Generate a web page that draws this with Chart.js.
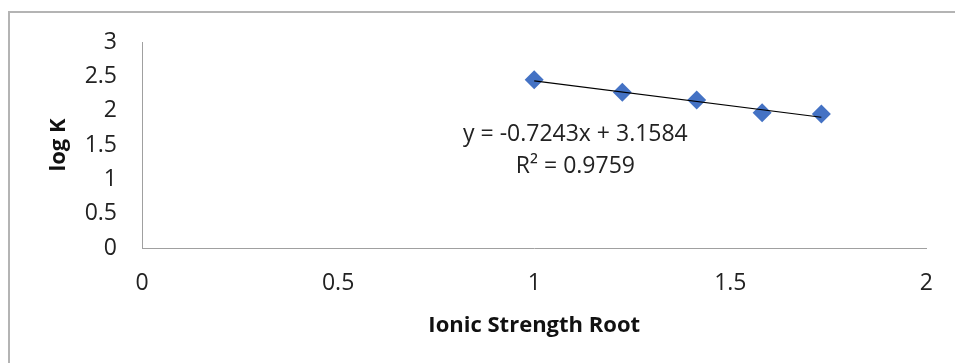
<!DOCTYPE html>
<html>
<head>
<meta charset="utf-8">
<script src="https://cdn.jsdelivr.net/npm/chart.js@4"></script>
<style>
  html, body { margin: 0; padding: 0; background: #fff; }
  #wrap { position: relative; width: 955px; height: 363px; overflow: hidden; }
  #frame { position: absolute; left: 8px; top: 11px; width: 1000px; height: 400px;
           border-left: 2px solid #b4b4b4; border-top: 2px solid #b4b4b4; }
  canvas { position: absolute; left: 0; top: 0; }
</style>
</head>
<body>
<div id="wrap">
  <div id="frame"></div>
  <canvas id="chart" width="955" height="363"></canvas>
</div>
<script>
// Data
const IONIC_ROOT = [1.0, 1.2247, 1.4142, 1.5811, 1.7321];
const LOG_K = [2.45, 2.27, 2.155, 1.97, 1.95];
const X_TICKS = ["0", "0.5", "1", "1.5", "2"];
const Y_TICKS = ["0", "0.5", "1", "1.5", "2", "2.5", "3"];
// trendline as printed on the chart
const SLOPE = -0.7243;
const INTERCEPT = 3.1584;
const EQ_LINES = ["y = -0.7243x + 3.1584", "R\u00b2 = 0.9759"];

const points = IONIC_ROOT.map((x, i) => ({x: x, y: LOG_K[i]}));
const xs = [IONIC_ROOT[0], IONIC_ROOT[IONIC_ROOT.length - 1]];
const trend = xs.map(x => ({x: x, y: SLOPE * x + INTERCEPT}));

const tickFont = {family: "'Open Sans', sans-serif", size: 23};
const titleFont = {family: "'Open Sans', sans-serif", size: 22, weight: "bold"};

// equation label, placed in data coordinates
const eqLabel = {
  id: "eqLabel",
  afterDatasetsDraw(chart) {
    const ctx = chart.ctx;
    const px = chart.scales.x.getPixelForValue(1.105);
    const py = chart.scales.y.getPixelForValue(1.66);
    ctx.save();
    ctx.font = "23px 'Open Sans', sans-serif";
    ctx.fillStyle = "#222";
    ctx.textAlign = "center";
    ctx.textBaseline = "middle";
    EQ_LINES.forEach((t, i) => ctx.fillText(t, px, py + i * 32));
    ctx.restore();
  }
};

new Chart(document.getElementById("chart"), {
  type: "scatter",
  data: {
    datasets: [
      {
        data: points,
        pointStyle: "rectRot",
        pointRadius: 9.5,
        backgroundColor: "#4472C4",
        borderColor: "#4472C4",
        borderWidth: 0,
        order: 1
      },
      {
        type: "line",
        data: trend,
        borderColor: "#000",
        borderWidth: 1.2,
        pointRadius: 0,
        fill: false,
        order: 0
      }
    ]
  },
  options: {
    responsive: false,
    animation: false,
    layout: {padding: {left: 0, top: 42, right: 23, bottom: 0}},
    plugins: {legend: {display: false}, tooltip: {enabled: false}},
    scales: {
      x: {
        type: "linear",
        min: 0, max: 2,
        grid: {display: false, drawTicks: false},
        border: {display: true, color: "#a0a0a0", width: 1},
        ticks: {stepSize: 0.5, padding: 22, color: "#222", font: tickFont,
                callback: (v, i) => X_TICKS[i]},
        title: {display: true, text: "Ionic Strength Root", color: "#111", font: titleFont,
                padding: {top: 0, bottom: 24}},
        afterFit: s => { s.height = 115; }
      },
      y: {
        min: 0, max: 3,
        grid: {display: false, drawTicks: false},
        border: {display: true, color: "#a0a0a0", width: 1},
        ticks: {stepSize: 0.5, padding: 25, color: "#222", font: tickFont,
                callback: (v, i) => Y_TICKS[i]},
        title: {display: true, text: "log K", color: "#111", font: titleFont,
                padding: {top: 46, bottom: 0}},
        afterFit: s => { s.width = 142; }
      }
    }
  },
  plugins: [eqLabel]
});
</script>
</body>
</html>
